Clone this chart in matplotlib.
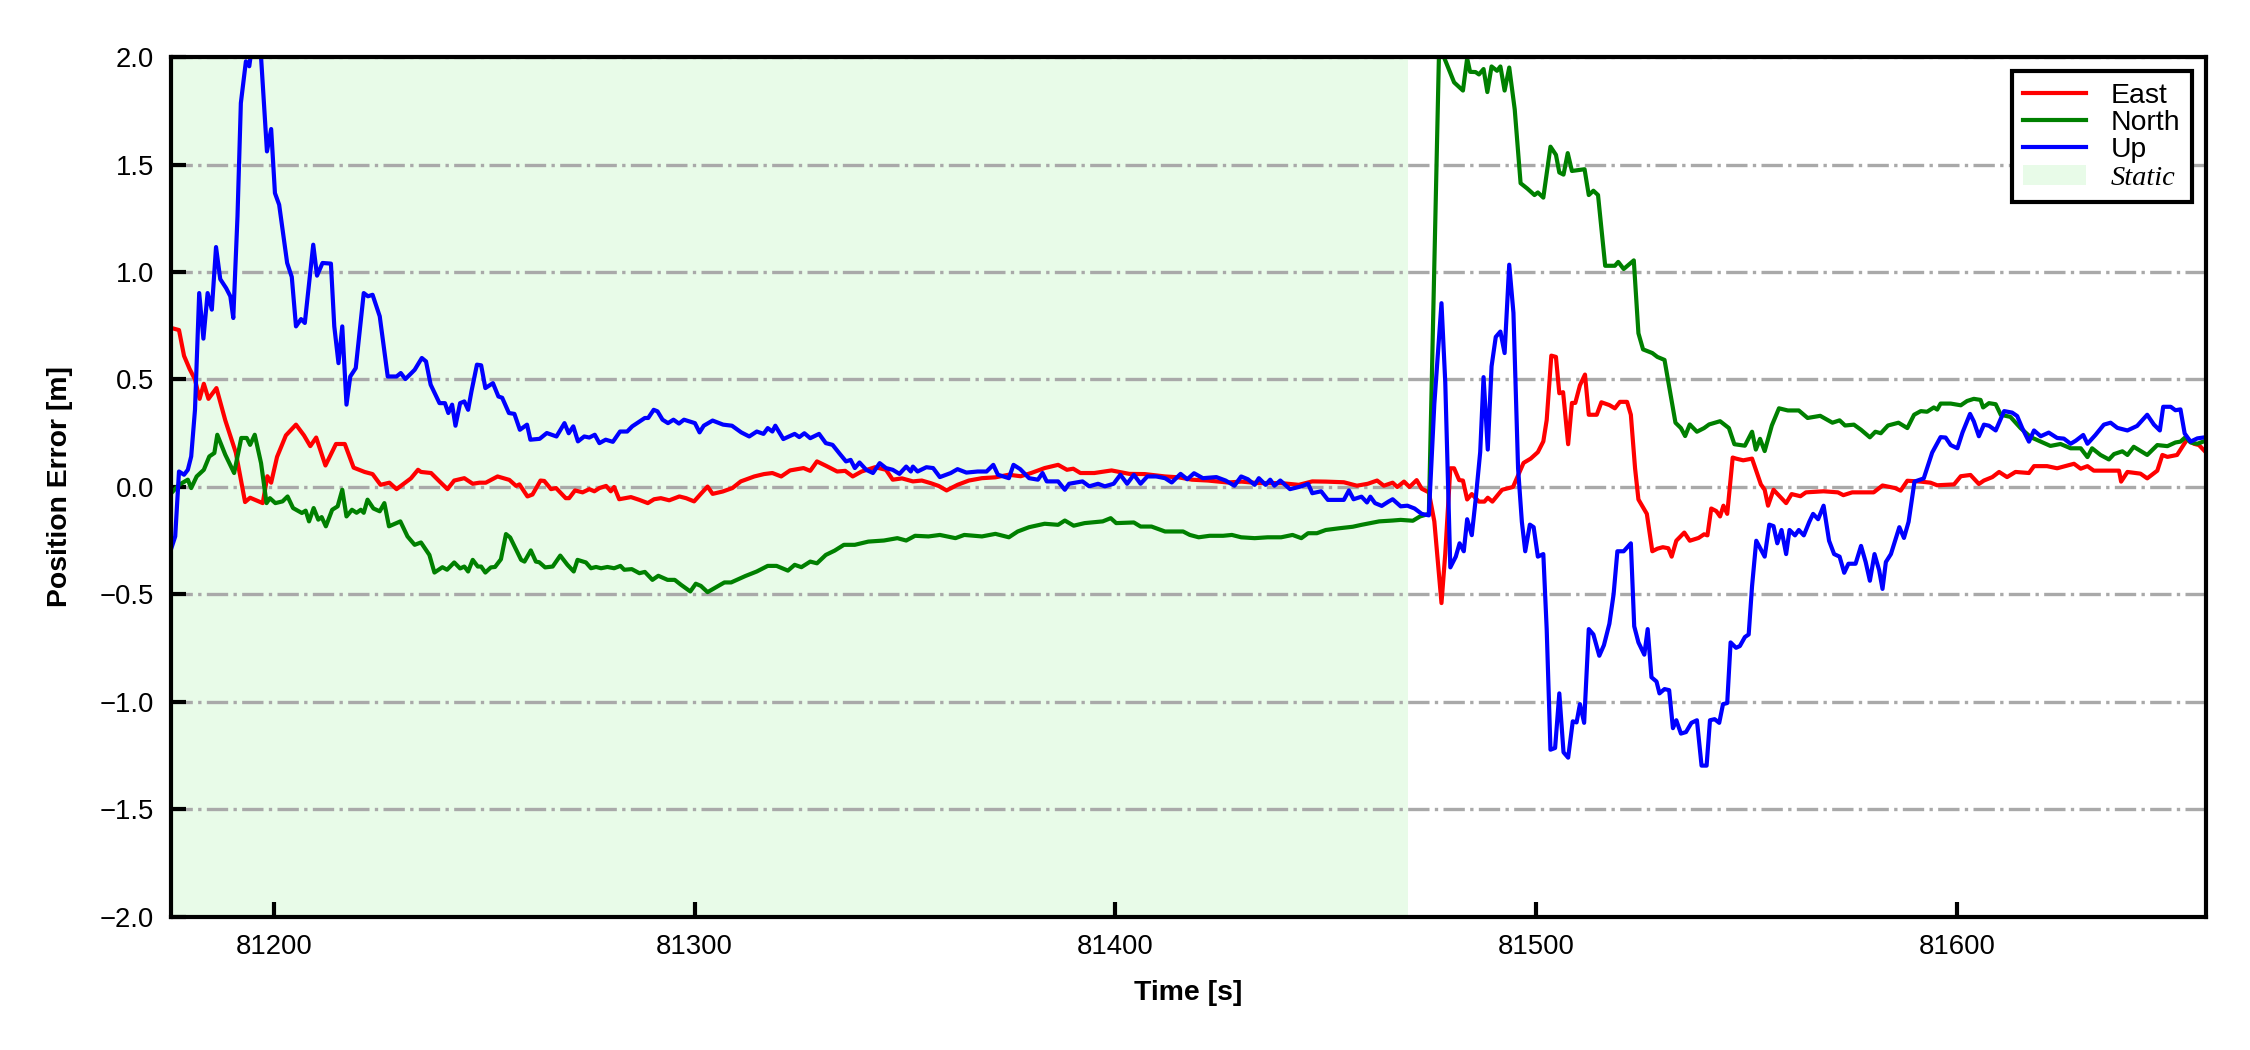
import matplotlib
matplotlib.use("Agg")
import matplotlib.pyplot as plt

# ---- data (time [s], error [m]) ----
east_t = [81175.6, 81177.5, 81178.7, 81180.0, 81181.3, 81182.4, 81183.4, 81184.5, 81186.4, 81188.5,
          81191.0, 81193.2, 81194.4, 81197.4, 81198.5, 81199.4, 81200.8, 81202.9, 81205.3, 81207.2,
          81208.7, 81210.1, 81212.3, 81214.8, 81216.9, 81219.0, 81221.6, 81223.5, 81225.4, 81227.5,
          81229.2, 81232.6, 81234.3, 81235.0, 81237.4, 81239.4, 81241.3, 81242.9, 81245.3, 81247.3,
          81248.9, 81250.4, 81253.2, 81256.0, 81257.6, 81258.4, 81260.3, 81261.5, 81263.4, 81264.3,
          81265.9, 81267.1, 81269.4, 81270.2, 81271.6, 81273.4, 81275.0, 81276.2, 81277.4, 81279.0,
          81280.1, 81280.9, 81282.1, 81284.9, 81286.9, 81288.9, 81290.4, 81292.0, 81294.0, 81296.4,
          81298.0, 81299.9, 81301.5, 81303.1, 81304.3, 81306.7, 81309.0, 81311.0, 81314.2, 81316.5,
          81318.5, 81320.6, 81322.7, 81325.9, 81327.5, 81329.1, 81331.2, 81333.9, 81335.8, 81337.6,
          81339.7, 81342.9, 81345.5, 81347.1, 81349.3, 81351.9, 81354.0, 81356.1, 81358.0, 81359.9,
          81362.5, 81365.2, 81368.3, 81371.5, 81374.7, 81377.5, 81380.0, 81383.2, 81386.4, 81388.5,
          81390.0, 81391.7, 81395.0, 81399.1, 81403.3, 81407.0, 81411.8, 81415.0, 81418.2, 81422.0,
          81426.7, 81430.0, 81434.0, 81439.4, 81443.6, 81446.8, 81450.0, 81454.3, 81457.4, 81460.0,
          81462.2, 81463.8, 81465.9, 81467.0, 81468.6, 81469.9, 81471.6, 81472.8, 81474.5, 81475.8,
          81477.5, 81478.4, 81479.6, 81480.5, 81481.7, 81482.6, 81483.6, 81484.7, 81486.4, 81487.7,
          81488.5, 81489.6, 81491.9, 81494.5, 81497.0, 81498.7, 81500.4, 81501.7, 81502.5, 81503.6,
          81504.7, 81505.5, 81506.4, 81507.6, 81508.5, 81509.3, 81510.4, 81511.6, 81512.5, 81514.4,
          81515.5, 81517.4, 81518.7, 81519.9, 81521.6, 81522.5, 81523.5, 81524.3, 81526.3, 81527.6,
          81528.8, 81530.1, 81531.4, 81532.2, 81533.3, 81535.2, 81536.5, 81538.6, 81539.9, 81540.7,
          81541.6, 81542.8, 81543.7, 81544.5, 81545.4, 81546.7, 81547.5, 81549.2, 81551.3, 81553.4,
          81554.3, 81555.1, 81556.4, 81559.4, 81560.7, 81562.8, 81564.1, 81568.3, 81571.7, 81573.0,
          81575.1, 81580.2, 81582.3, 81585.3, 81586.6, 81588.2, 81591.4, 81593.7, 81595.3, 81599.3,
          81600.9, 81603.2, 81605.2, 81606.4, 81608.4, 81610.0, 81611.9, 81613.9, 81617.1, 81618.3,
          81621.4, 81623.8, 81627.8, 81629.4, 81631.0, 81632.5, 81637.3, 81638.5, 81639.0, 81640.5,
          81643.6, 81645.2, 81647.6, 81648.8, 81650.0, 81652.3, 81654.7, 81656.3, 81657.5, 81659.2]
east_v = [0.74, 0.73, 0.61, 0.55, 0.50, 0.41, 0.48, 0.41, 0.46, 0.31,
          0.16, -0.07, -0.05, -0.075, 0.05, 0.02, 0.14, 0.24, 0.29, 0.24,
          0.19, 0.23, 0.10, 0.20, 0.20, 0.09, 0.07, 0.06, 0.01, 0.02,
          -0.01, 0.04, 0.08, 0.07, 0.065, 0.026, -0.01, 0.03, 0.041, 0.015,
          0.02, 0.02, 0.049, 0.033, 0.005, 0.012, -0.044, -0.035, 0.03, 0.028,
          -0.01, -0.005, -0.052, -0.052, -0.016, -0.025, -0.01, -0.02, -0.005, 0.005,
          -0.02, 0.0, -0.057, -0.047, -0.06, -0.075, -0.057, -0.052, -0.062, -0.044,
          -0.052, -0.067, -0.032, 0.002, -0.032, -0.021, -0.005, 0.026, 0.049, 0.06,
          0.065, 0.049, 0.077, 0.088, 0.075, 0.119, 0.099, 0.072, 0.075, 0.049,
          0.072, 0.092, 0.08, 0.034, 0.04, 0.026, 0.03, 0.018, 0.005, -0.016,
          0.01, 0.03, 0.041, 0.045, 0.057, 0.05, 0.065, 0.088, 0.103, 0.08,
          0.085, 0.065, 0.065, 0.077, 0.061, 0.06, 0.049, 0.045, 0.034, 0.03,
          0.021, 0.025, 0.018, 0.018, 0.01, 0.026, 0.025, 0.022, 0.006, 0.015,
          0.03, 0.006, 0.02, 0.0, 0.025, 0.0, 0.032, -0.008, -0.025, -0.16,
          -0.54, -0.31, 0.087, 0.087, 0.032, 0.03, -0.058, -0.033, -0.068, -0.068,
          -0.05, -0.068, -0.013, 0.0, 0.112, 0.132, 0.162, 0.212, 0.311, 0.611,
          0.605, 0.436, 0.441, 0.199, 0.391, 0.391, 0.473, 0.523, 0.336, 0.336,
          0.394, 0.381, 0.366, 0.396, 0.396, 0.336, 0.087, -0.058, -0.125, -0.299,
          -0.287, -0.28, -0.285, -0.324, -0.25, -0.212, -0.25, -0.237, -0.22, -0.225,
          -0.1, -0.112, -0.137, -0.087, -0.125, 0.137, 0.132, 0.124, 0.132, 0.012,
          -0.013, -0.087, -0.013, -0.075, -0.033, -0.043, -0.025, -0.02, -0.025, -0.038,
          -0.025, -0.025, 0.007, -0.005, -0.017, 0.029, 0.025, 0.02, 0.008, 0.012,
          0.05, 0.056, 0.014, 0.03, 0.046, 0.07, 0.046, 0.07, 0.065, 0.097,
          0.097, 0.087, 0.108, 0.085, 0.097, 0.076, 0.076, 0.076, 0.025, 0.07,
          0.062, 0.04, 0.076, 0.149, 0.14, 0.149, 0.222, 0.201, 0.195, 0.16]

north_t = [81175.6, 81177.5, 81179.6, 81180.4, 81181.7, 81183.4, 81184.7, 81185.9, 81186.6, 81188.5,
           81190.6, 81192.3, 81193.6, 81194.4, 81195.5, 81197.0, 81198.3, 81199.1, 81200.4, 81202.1,
           81203.3, 81204.6, 81206.7, 81207.6, 81208.4, 81209.5, 81210.6, 81211.4, 81212.4, 81213.9,
           81215.2, 81216.3, 81217.3, 81218.6, 81219.7, 81220.7, 81221.4, 81222.3, 81223.7, 81225.2,
           81226.3, 81227.4, 81230.1, 81231.8, 81233.5, 81235.0, 81237.0, 81238.2, 81240.1, 81241.2,
           81242.9, 81244.3, 81245.3, 81246.2, 81247.3, 81248.5, 81249.3, 81250.3, 81251.6, 81252.6,
           81254.0, 81255.2, 81256.2, 81258.8, 81259.6, 81261.1, 81262.3, 81263.1, 81264.5, 81266.3,
           81268.1, 81269.8, 81271.3, 81272.2, 81274.2, 81275.4, 81276.6, 81277.8, 81279.3, 81280.9,
           81282.4, 81283.3, 81285.1, 81286.9, 81288.2, 81290.0, 81291.4, 81293.6, 81295.3, 81296.8,
           81299.0, 81300.3, 81301.5, 81303.1, 81304.7, 81307.1, 81308.7, 81311.0, 81312.1, 81314.8,
           81317.4, 81319.5, 81322.2, 81323.8, 81325.4, 81327.5, 81329.1, 81331.2, 81333.3, 81335.5,
           81338.1, 81341.3, 81345.0, 81348.2, 81350.3, 81352.4, 81355.6, 81358.3, 81362.0, 81364.1,
           81368.3, 81371.5, 81374.7, 81376.8, 81379.5, 81383.2, 81386.4, 81388.0, 81390.1, 81392.7,
           81397.0, 81398.9, 81400.2, 81404.4, 81406.0, 81408.6, 81411.8, 81416.1, 81417.7, 81419.8,
           81422.4, 81425.6, 81427.7, 81429.9, 81433.1, 81436.2, 81439.4, 81442.1, 81444.2, 81445.8,
           81447.9, 81450.0, 81453.2, 81456.4, 81458.5, 81460.6, 81462.7, 81465.9, 81467.8, 81470.7,
           81472.4, 81474.5, 81477.0, 81478.2, 81480.5, 81482.6, 81483.6, 81484.3, 81485.6, 81486.4,
           81487.5, 81488.4, 81489.4, 81490.7, 81491.5, 81492.5, 81493.6, 81494.9, 81496.3, 81497.9,
           81499.6, 81500.4, 81501.7, 81503.4, 81504.7, 81505.5, 81506.5, 81507.5, 81508.5, 81511.5,
           81512.5, 81513.6, 81514.7, 81516.4, 81518.7, 81519.5, 81520.8, 81523.2, 81524.3, 81525.4,
           81527.6, 81528.8, 81530.5, 81533.1, 81534.4, 81535.4, 81536.5, 81538.2, 81539.9, 81541.1,
           81543.7, 81545.8, 81547.1, 81549.6, 81551.3, 81552.2, 81553.2, 81554.3, 81556.0, 81557.7,
           81559.8, 81562.4, 81564.5, 81567.5, 81570.4, 81572.1, 81573.4, 81575.5, 81577.2, 81579.3,
           81580.6, 81581.9, 81583.6, 81586.1, 81588.2, 81589.8, 81591.4, 81592.9, 81594.5, 81595.3,
           81596.1, 81598.5, 81600.9, 81602.4, 81604.0, 81605.6, 81606.2, 81607.6, 81609.2, 81610.4,
           81612.7, 81615.1, 81617.5, 81619.9, 81622.2, 81624.6, 81627.0, 81629.4, 81631.0, 81632.1,
           81634.1, 81636.1, 81637.3, 81639.3, 81640.5, 81642.0, 81645.2, 81647.6, 81650.0, 81651.9,
           81653.1, 81654.3, 81655.5, 81657.1, 81659.2]
north_v = [-0.03, 0.01, 0.034, -0.005, 0.049, 0.08, 0.142, 0.158, 0.243, 0.15,
           0.065, 0.228, 0.228, 0.196, 0.243, 0.111, -0.075, -0.052, -0.075, -0.067,
           -0.044, -0.098, -0.121, -0.11, -0.16, -0.098, -0.152, -0.14, -0.183, -0.106,
           -0.09, -0.013, -0.137, -0.106, -0.12, -0.106, -0.12, -0.059, -0.1, -0.113,
           -0.075, -0.183, -0.16, -0.23, -0.269, -0.258, -0.316, -0.398, -0.373, -0.385,
           -0.351, -0.379, -0.37, -0.393, -0.339, -0.37, -0.37, -0.398, -0.374, -0.372,
           -0.336, -0.219, -0.235, -0.339, -0.347, -0.295, -0.347, -0.35, -0.374, -0.37,
           -0.319, -0.362, -0.393, -0.339, -0.351, -0.378, -0.372, -0.378, -0.372, -0.378,
           -0.367, -0.385, -0.382, -0.401, -0.395, -0.432, -0.413, -0.432, -0.432, -0.455,
           -0.486, -0.45, -0.46, -0.489, -0.471, -0.444, -0.444, -0.424, -0.414, -0.393,
           -0.367, -0.367, -0.389, -0.362, -0.373, -0.347, -0.355, -0.316, -0.296, -0.269,
           -0.269, -0.254, -0.249, -0.238, -0.249, -0.227, -0.23, -0.223, -0.238, -0.223,
           -0.23, -0.218, -0.234, -0.207, -0.187, -0.171, -0.176, -0.156, -0.18, -0.168,
           -0.16, -0.145, -0.168, -0.165, -0.184, -0.184, -0.207, -0.207, -0.223, -0.234,
           -0.227, -0.227, -0.223, -0.234, -0.238, -0.234, -0.234, -0.223, -0.238, -0.215,
           -0.215, -0.2, -0.192, -0.185, -0.176, -0.168, -0.16, -0.156, -0.153, -0.157,
           -0.137, -0.125, 2.1, 1.994, 1.882, 1.844, 1.994, 1.931, 1.93, 1.919,
           1.944, 1.837, 1.956, 1.936, 1.956, 1.844, 1.951, 1.757, 1.413, 1.388,
           1.358, 1.37, 1.346, 1.583, 1.545, 1.463, 1.453, 1.553, 1.47, 1.478,
           1.358, 1.378, 1.358, 1.029, 1.029, 1.047, 1.014, 1.054, 0.715, 0.64,
           0.623, 0.605, 0.591, 0.299, 0.274, 0.237, 0.291, 0.257, 0.274, 0.291,
           0.306, 0.274, 0.199, 0.192, 0.257, 0.174, 0.224, 0.167, 0.286, 0.366,
           0.356, 0.356, 0.321, 0.331, 0.299, 0.31, 0.286, 0.29, 0.266, 0.231,
           0.257, 0.25, 0.286, 0.299, 0.274, 0.336, 0.353, 0.35, 0.37, 0.36,
           0.388, 0.388, 0.38, 0.4, 0.41, 0.405, 0.37, 0.39, 0.385, 0.336,
           0.326, 0.274, 0.232, 0.211, 0.191, 0.2, 0.18, 0.18, 0.139, 0.18,
           0.149, 0.128, 0.153, 0.166, 0.149, 0.187, 0.149, 0.195, 0.19, 0.207,
           0.211, 0.232, 0.207, 0.201, 0.216]

up_t = [81175.6, 81176.6, 81177.5, 81178.7, 81179.6, 81180.4, 81181.3, 81182.3, 81183.3, 81184.3,
        81185.3, 81186.3, 81187.3, 81188.7, 81189.7, 81190.4, 81191.4, 81192.2, 81193.4, 81194.2,
        81196.2, 81198.4, 81199.4, 81200.3, 81201.3, 81203.2, 81204.3, 81205.3, 81206.5, 81207.4,
        81209.4, 81210.3, 81211.6, 81213.6, 81214.4, 81215.4, 81216.3, 81217.3, 81218.2, 81219.5,
        81221.4, 81222.4, 81223.5, 81225.2, 81227.1, 81229.2, 81230.2, 81231.3, 81233.5, 81235.2,
        81236.2, 81237.3, 81239.4, 81240.7, 81241.5, 81242.4, 81243.2, 81244.3, 81245.3, 81246.2,
        81247.0, 81248.3, 81249.3, 81250.3, 81252.1, 81253.4, 81254.3, 81255.9, 81257.2, 81258.5,
        81260.2, 81261.0, 81263.2, 81264.9, 81267.2, 81269.1, 81270.1, 81271.2, 81272.3, 81273.8,
        81275.0, 81276.3, 81277.4, 81278.9, 81280.6, 81282.3, 81284.0, 81285.2, 81288.2, 81289.0,
        81290.3, 81291.2, 81292.4, 81293.7, 81295.0, 81296.3, 81297.5, 81300.1, 81301.2, 81302.2,
        81304.3, 81306.8, 81308.9, 81311.1, 81313.0, 81314.8, 81316.4, 81317.4, 81318.5, 81319.2,
        81321.1, 81323.8, 81324.9, 81326.1, 81327.5, 81329.6, 81331.2, 81332.8, 81334.4, 81336.0,
        81337.1, 81338.1, 81339.2, 81340.8, 81342.4, 81344.0, 81345.5, 81347.1, 81348.7, 81350.3,
        81351.4, 81351.9, 81353.0, 81355.1, 81356.7, 81358.3, 81360.9, 81362.5, 81364.6, 81367.3,
        81369.4, 81371.0, 81372.1, 81374.7, 81375.8, 81377.4, 81379.5, 81381.6, 81382.7, 81383.7,
        81386.4, 81388.0, 81389.0, 81392.2, 81393.8, 81395.9, 81397.5, 81399.6, 81401.2, 81402.8,
        81404.4, 81406.0, 81407.6, 81409.7, 81411.8, 81413.4, 81415.5, 81417.1, 81418.7, 81420.8,
        81424.0, 81426.2, 81428.3, 81429.9, 81431.5, 81433.1, 81434.1, 81435.7, 81436.8, 81437.8,
        81439.2, 81441.5, 81444.2, 81445.8, 81446.8, 81448.9, 81450.5, 81454.3, 81455.5, 81456.6,
        81458.5, 81459.8, 81460.6, 81461.7, 81463.3, 81464.9, 81465.9, 81467.8, 81469.4, 81471.1,
        81472.8, 81474.5, 81475.8, 81477.5, 81478.4, 81479.6, 81480.9, 81481.8, 81482.8, 81483.6,
        81484.7, 81485.6, 81486.7, 81487.5, 81488.5, 81489.4, 81490.4, 81491.5, 81492.5, 81493.6,
        81494.6, 81495.7, 81496.6, 81497.4, 81498.5, 81499.4, 81500.4, 81501.7, 81502.5, 81503.4,
        81504.5, 81505.5, 81506.5, 81507.6, 81508.7, 81509.6, 81510.4, 81511.4, 81512.5, 81513.6,
        81515.0, 81516.1, 81517.4, 81518.4, 81519.3, 81520.8, 81522.5, 81523.3, 81524.3, 81525.7,
        81526.5, 81527.4, 81528.6, 81529.3, 81530.5, 81531.6, 81532.5, 81533.3, 81534.4, 81535.6,
        81536.9, 81538.2, 81539.3, 81540.5, 81541.3, 81542.4, 81543.5, 81544.4, 81545.4, 81546.2,
        81547.5, 81548.4, 81549.6, 81550.5, 81551.3, 81552.3, 81554.3, 81555.4, 81556.4, 81557.3,
        81558.3, 81559.4, 81560.2, 81561.5, 81562.4, 81563.6, 81564.9, 81565.8, 81567.0, 81568.3,
        81569.6, 81570.8, 81572.1, 81573.2, 81574.2, 81575.9, 81577.2, 81578.3, 81579.3, 81580.4,
        81581.5, 81582.3, 81583.1, 81584.3, 81585.3, 81586.3, 81587.4, 81588.5, 81589.9, 81592.1,
        81594.1, 81596.1, 81597.3, 81598.5, 81600.1, 81601.3, 81603.1, 81604.0, 81605.2, 81606.4,
        81607.6, 81609.2, 81611.2, 81613.1, 81614.3, 81615.5, 81617.1, 81618.3, 81619.9, 81621.8,
        81623.8, 81625.4, 81627.0, 81628.2, 81630.0, 81631.0, 81632.9, 81634.9, 81636.5, 81638.1,
        81640.5, 81642.8, 81645.2, 81646.8, 81648.2, 81649.0, 81650.8, 81651.9, 81653.1, 81654.1,
        81655.5, 81657.1, 81659.2]
up_v = [-0.29, -0.23, 0.072, 0.057, 0.08, 0.142, 0.359, 0.902, 0.69, 0.902,
        0.825, 1.116, 0.967, 0.925, 0.887, 0.786, 1.259, 1.786, 1.98, 1.957,
        2.25, 1.561, 1.665, 1.367, 1.313, 1.042, 0.977, 0.747, 0.781, 0.763,
        1.127, 0.983, 1.042, 1.039, 0.747, 0.576, 0.747, 0.383, 0.514, 0.553,
        0.902, 0.887, 0.894, 0.794, 0.514, 0.514, 0.53, 0.502, 0.545, 0.6,
        0.584, 0.476, 0.39, 0.39, 0.344, 0.383, 0.285, 0.39, 0.398, 0.359,
        0.445, 0.569, 0.566, 0.46, 0.483, 0.421, 0.415, 0.344, 0.34, 0.266,
        0.29, 0.22, 0.224, 0.251, 0.235, 0.297, 0.25, 0.282, 0.212, 0.235,
        0.23, 0.243, 0.204, 0.22, 0.21, 0.258, 0.258, 0.282, 0.321, 0.321,
        0.359, 0.352, 0.313, 0.297, 0.313, 0.295, 0.313, 0.297, 0.254, 0.285,
        0.309, 0.29, 0.285, 0.254, 0.235, 0.258, 0.247, 0.274, 0.258, 0.285,
        0.223, 0.247, 0.232, 0.25, 0.227, 0.247, 0.204, 0.196, 0.157, 0.119,
        0.126, 0.088, 0.114, 0.08, 0.065, 0.111, 0.088, 0.08, 0.061, 0.095,
        0.072, 0.095, 0.072, 0.092, 0.088, 0.046, 0.065, 0.083, 0.067, 0.072,
        0.072, 0.103, 0.057, 0.041, 0.103, 0.083, 0.041, 0.034, 0.065, 0.026,
        0.026, -0.013, 0.015, 0.026, 0.003, 0.015, 0.003, 0.015, 0.057, 0.015,
        0.057, 0.015, 0.049, 0.049, 0.041, 0.021, 0.061, 0.036, 0.064, 0.041,
        0.046, 0.03, 0.006, 0.049, 0.036, 0.01, 0.041, 0.01, 0.034, 0.006,
        0.03, -0.01, 0.003, 0.015, -0.029, -0.02, -0.06, -0.06, -0.016, -0.057,
        -0.045, -0.072, -0.045, -0.075, -0.088, -0.068, -0.057, -0.09, -0.087, -0.1,
        -0.125, -0.132, 0.386, 0.855, 0.486, -0.374, -0.324, -0.262, -0.299, -0.15,
        -0.224, -0.062, 0.162, 0.511, 0.174, 0.561, 0.698, 0.723, 0.623, 1.034,
        0.81, 0.087, -0.162, -0.299, -0.175, -0.187, -0.324, -0.312, -0.661, -1.222,
        -1.214, -0.96, -1.234, -1.259, -1.09, -1.095, -1.01, -1.097, -0.661, -0.686,
        -0.785, -0.736, -0.636, -0.499, -0.299, -0.299, -0.262, -0.648, -0.723, -0.78,
        -0.661, -0.885, -0.905, -0.96, -0.94, -0.945, -1.122, -1.085, -1.147, -1.14,
        -1.097, -1.085, -1.296, -1.296, -1.085, -1.08, -1.097, -1.01, -1.005, -0.723,
        -0.748, -0.74, -0.698, -0.686, -0.461, -0.25, -0.324, -0.175, -0.182, -0.262,
        -0.2, -0.312, -0.2, -0.225, -0.2, -0.225, -0.162, -0.125, -0.15, -0.087,
        -0.25, -0.312, -0.324, -0.399, -0.357, -0.357, -0.274, -0.349, -0.436, -0.312,
        -0.387, -0.474, -0.349, -0.312, -0.25, -0.187, -0.237, -0.162, 0.025, 0.04,
        0.16, 0.232, 0.23, 0.195, 0.18, 0.253, 0.34, 0.305, 0.236, 0.29,
        0.285, 0.263, 0.353, 0.346, 0.33, 0.274, 0.211, 0.263, 0.236, 0.253,
        0.228, 0.225, 0.201, 0.215, 0.242, 0.201, 0.242, 0.29, 0.299, 0.275,
        0.263, 0.284, 0.336, 0.29, 0.263, 0.373, 0.373, 0.357, 0.361, 0.249,
        0.211, 0.226, 0.232]

static_start = 81175.6
static_end = 81469.5
x_range = (81175.6, 81659.2)
y_range = (-2.0, 2.0)
y_ticks = [-2.0, -1.5, -1.0, -0.5, 0.0, 0.5, 1.0, 1.5, 2.0]
x_ticks = [81200, 81300, 81400, 81500, 81600]

plt.rcParams['font.family'] = ['Liberation Sans', 'DejaVu Sans']

fig, ax = plt.subplots(figsize=(7.5, 3.5), dpi=300)
fig.subplots_adjust(left=0.076, right=0.9805, bottom=0.1267, top=0.9457)

# static period shading
ax.axvspan(static_start, static_end, facecolor='lightgreen', alpha=0.2, lw=0, label='Static', zorder=0)

ax.plot(east_t, east_v, color='red', lw=1.0, label='East')
ax.plot(north_t, north_v, color='green', lw=1.0, label='North')
ax.plot(up_t, up_v, color='blue', lw=1.0, label='Up')

ax.set_xlim(*x_range)
ax.set_ylim(*y_range)
ax.set_xticks(x_ticks)
ax.set_yticks(y_ticks)
ax.yaxis.grid(True, linestyle='-.', color='darkgray', linewidth=0.8)

ax.tick_params(direction='in', length=3.5, width=1.0, labelsize=6.6, pad=4)
for s in ax.spines.values():
    s.set_linewidth(1.0)

ax.set_xlabel('Time [s]', fontsize=6.8, fontweight='bold', labelpad=5)
ax.set_ylabel('Position Error [m]', fontsize=6.8, fontweight='bold', labelpad=6.5)

handles, labels = ax.get_legend_handles_labels()
order = [1, 2, 3, 0]
leg = ax.legend([handles[i] for i in order], [labels[i] for i in order],
                loc='upper right', fontsize=6.8, fancybox=False, framealpha=1,
                edgecolor='black', handlelength=2.2, handletextpad=0.9,
                labelspacing=0.05, borderpad=0.4)
leg.get_frame().set_linewidth(1.0)
st = leg.get_texts()[3]
st.set_fontfamily(['Liberation Serif', 'DejaVu Serif'])
st.set_fontstyle('italic')

fig.savefig('out.png', dpi=300)
